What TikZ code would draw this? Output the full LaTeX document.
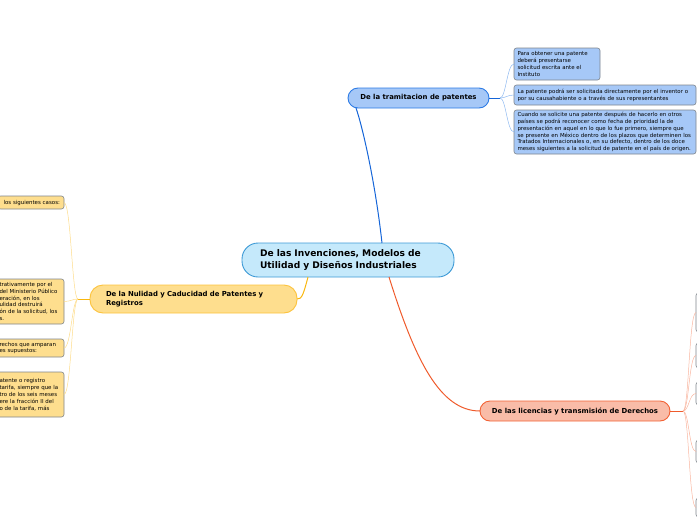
\documentclass[tikz,border=0pt]{standalone}
\usepackage{fontspec}
\setmainfont{DejaVu Sans}
\usepackage{tikz}

\definecolor{mainfill}{HTML}{C5E9FB}
\definecolor{mainline}{HTML}{3D9AD6}
\definecolor{bluefill}{HTML}{A6C8F7}
\definecolor{blueline}{HTML}{2C7BE5}
\definecolor{bluelink}{HTML}{1565D8}
\definecolor{bluesub}{HTML}{8DB8F0}
\definecolor{orangefill}{HTML}{FEDE8E}
\definecolor{orangeline}{HTML}{FCC33D}
\definecolor{orangelink}{HTML}{F9B70F}
\definecolor{orangesub}{HTML}{FDDC8A}
\definecolor{redfill}{HTML}{F9BCA8}
\definecolor{redline}{HTML}{F26235}
\definecolor{redlink}{HTML}{EF5A2B}
\definecolor{redsub}{HTML}{F9B6A0}
\definecolor{leafline}{HTML}{7F858C}

\begin{document}
\begin{tikzpicture}[x=1pt, y=-1pt,
  every node/.style={inner sep=0pt, outer sep=0pt},
  topic/.style={draw, line width=0.9pt, rounded corners=10pt, font=\fontsize{6.9}{8.6}\selectfont\bfseries},
  leaf/.style={draw=leafline, line width=0.6pt, rounded corners=2.5pt, align=left, inner xsep=3.5pt, inner ysep=2pt, anchor=north west, font=\fontsize{5.45}{6.9}\selectfont},
  sublink/.style={line width=0.5pt}]
  \useasboundingbox (0,0) rectangle (697,520);
  % centre
  \node[draw=mainline, fill=mainfill, line width=0.9pt, rounded corners=16pt, minimum width=212pt, minimum height=34pt, text width=176pt, align=left, inner xsep=18pt, font=\fontsize{9.1}{11.5}\selectfont\bfseries] (centro) at (348,260) {De las Invenciones, Modelos de\\Utilidad y Diseños Industriales};
  % branches
  \node[topic, draw=blueline, fill=bluefill, minimum width=141pt, minimum height=20pt] (tramite) at (418.5,98) {De la tramitacion de patentes};
  \node[topic, draw=orangeline, fill=orangefill, rounded corners=13pt, minimum width=207pt, minimum height=28pt, text width=175pt, align=left, inner xsep=16pt] (nulidad) at (193.5,299) {De la Nulidad y Caducidad de Patentes y\\Registros};
  \node[topic, draw=redline, fill=redfill, minimum width=190pt, minimum height=20pt] (licencias) at (575,411) {De las licencias y transmisión de Derechos};
  \coordinate (c1) at (382,243);
  \coordinate (c2) at (308,277);
  \coordinate (c3) at (389,277);
  \draw[bluelink, line width=1pt] (c1) .. controls (375,180) and (362,125) .. (356,108);
  \draw[orangelink, line width=1pt] (c2) .. controls (304,292) and (302,300) .. (nulidad.east);
  \draw[redlink, line width=1pt] (c3) .. controls (415,360) and (440,411) .. (licencias.west);
  % tramitacion leaves
  \node[leaf, fill=bluefill, text width=79pt, minimum height=32pt] (t1) at (514,48) {Para obtener una patente\\deberá presentarse\\solicitud escrita ante el\\Instituto};
  \node[leaf, fill=bluefill, text width=175pt, minimum height=20pt] (t2) at (514,85) {La patente podrá ser solicitada directamente por el inventor o\\por su causahabiente o a través de sus representantes};
  \node[leaf, fill=bluefill, text width=175pt, minimum height=44pt] (t3) at (514,110) {Cuando se solicite una patente después de hacerlo en otros\\países se podrá reconocer como fecha de prioridad la de\\presentación en aquel en lo que lo fue primero, siempre que\\se presente en México dentro de los plazos que determinen los\\Tratados Internacionales o, en su defecto, dentro de los doce\\meses siguientes a la solicitud de patente en el país de origen.};
  \coordinate (thub) at (500,98);
  \draw[bluelink, line width=1pt] (tramite.east) -- (thub);
  \foreach \n in {t1,t2,t3}
    \draw[bluesub, sublink] (thub) .. controls +(6,0) and +(-7,0) .. (\n.west);
  % nulidad leaves
  \node[leaf, anchor=north east, fill=orangefill, text width=59pt, minimum height=13pt] (n1) at (64,196) {\hspace{2pt}los siguientes casos:};
  \node[leaf, anchor=north east, fill=orangefill, text width=61pt, minimum height=45pt] (n2) at (64,279) {trativamente por el\\del Ministerio Público\\eración, en los\\ulidad destruirá\\ón de la solicitud, los\\s.};
  \node[leaf, anchor=north east, fill=orangefill, text width=61pt, minimum height=18pt] (n3) at (64,339) {rechos que amparan\\es supuestos:};
  \node[leaf, anchor=north east, fill=orangefill, text width=61pt, minimum height=45pt] (n4) at (64,372) {atente o registro\\tarifa, siempre que la\\tro de los seis meses\\ere la fracción II del\\o de la tarifa, más};
  \coordinate (nhub) at (78,299);
  \draw[orangelink, line width=1pt] (nulidad.west) -- (nhub);
  \foreach \n in {n1,n2,n3,n4}
    \draw[orangesub, sublink] (nhub) .. controls +(-6,0) and +(7,0) .. (\n.east);
  % licencias leaves
  \node[leaf, anchor=west, fill=white, minimum width=30pt, minimum height=39pt] (l1) at (696,312.5) {};
  \node[leaf, anchor=west, fill=white, minimum width=30pt, minimum height=25pt] (l2) at (696,355.5) {};
  \node[leaf, anchor=west, fill=white, minimum width=30pt, minimum height=23pt] (l3) at (696,393.5) {};
  \node[leaf, anchor=west, fill=white, minimum width=30pt, minimum height=23pt] (l4) at (696,451.5) {};
  \node[leaf, anchor=west, fill=white, minimum width=30pt, minimum height=19pt] (l5) at (696,507.5) {};
  \coordinate (lhub) at (683,411);
  \draw[redlink, line width=1pt] (licencias.east) -- (lhub);
  \foreach \n in {l1,l2,l3,l4,l5}
    \draw[redsub, sublink] (lhub) .. controls +(6,0) and +(-7,0) .. (\n.west);
\end{tikzpicture}
\end{document}
